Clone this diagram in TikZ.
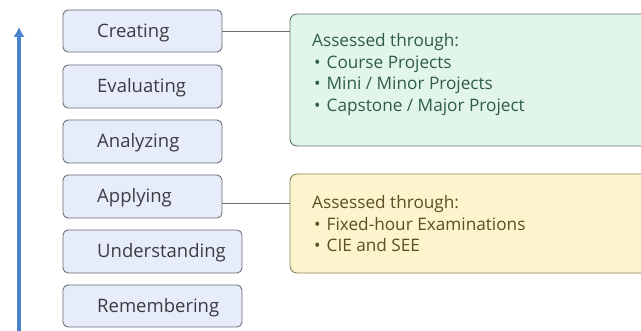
\documentclass[tikz,border=0pt]{standalone}
\usepackage{fontspec}
\usetikzlibrary{arrows.meta}
\setmainfont{Open Sans}
\definecolor{lvlfill}{HTML}{E6ECF9}
\definecolor{lvldraw}{HTML}{6A6E78}
\definecolor{lvltext}{HTML}{3A3C42}
\definecolor{arrowblue}{HTML}{4A82CC}
\definecolor{greenfill}{HTML}{E2F5EA}
\definecolor{greendraw}{HTML}{5E7A68}
\definecolor{greentext}{HTML}{2F5E42}
\definecolor{yellowfill}{HTML}{FCF4CC}
\definecolor{yellowdraw}{HTML}{8C8458}
\definecolor{yellowtext}{HTML}{5C4E1E}
\definecolor{linegray}{HTML}{6A6A6A}
\tikzset{
  lvl/.style={draw=lvldraw, fill=lvlfill, rounded corners=5pt, line width=0.9pt},
  lvltxt/.style={text=lvltext, font=\fontsize{18.5}{22}\selectfont, anchor=base west, inner sep=0pt},
  assess/.style={rounded corners=7pt, line width=0.9pt},
  asstxt/.style={anchor=north west, font=\fontsize{17.2}{21.6}\selectfont, align=left, inner sep=0pt},
  conn/.style={draw=linegray, line width=0.9pt},
}
\begin{document}
\begin{tikzpicture}[x=1pt,y=-1pt]
\useasboundingbox[fill=white] (0,0) rectangle (641,331);
% arrow
\coordinate (abot) at (19,331);
\coordinate (atop) at (19,27);
\draw[arrowblue, line width=3.5pt, -{Latex[length=10pt,width=11.5pt]}] (abot) -- (atop);
% level boxes
\draw[lvl] (63,10) rectangle (222,52);
\node[lvltxt] (cre) at (97,38) {Creating};
\draw[lvl] (63,65) rectangle (222,108);
\node[lvltxt] (eva) at (97,93) {Evaluating};
\draw[lvl] (63,120) rectangle (222,163);
\node[lvltxt] (ana) at (97,148) {Analyzing};
\draw[lvl] (63,175) rectangle (222,218);
\node[lvltxt] (app) at (97,203) {Applying};
\draw[lvl] (63,230) rectangle (242,273);
\node[lvltxt] (und) at (97,258) {Understanding};
\draw[lvl] (63,285) rectangle (242,327);
\node[lvltxt] (rem) at (97,313) {Remembering};
\coordinate (creR) at (222,31);
\coordinate (appR) at (222,203);
% assessment boxes
\draw[assess, draw=greendraw, fill=greenfill] (290,14) rectangle (660,146);
\coordinate (grnL) at (290,31);
\node[asstxt, text=greentext] (grn) at (312,33.5)
 {Assessed through:\\
  \hspace*{2pt}\textbullet\hspace{6pt}Course Projects\\
  \hspace*{2pt}\textbullet\hspace{6pt}Mini / Minor Projects\\
  \hspace*{2pt}\textbullet\hspace{6pt}Capstone / Major Project};
\draw[assess, draw=yellowdraw, fill=yellowfill] (290,174) rectangle (660,273);
\coordinate (ylwL) at (290,203);
\node[asstxt, text=yellowtext] (ylw) at (312,195.5)
 {Assessed through:\\
  \hspace*{2pt}\textbullet\hspace{6pt}Fixed-hour Examinations\\
  \hspace*{2pt}\textbullet\hspace{6pt}CIE and SEE};
% connectors
\draw[conn] (creR) -- (grnL);
\draw[conn] (appR) -- (ylwL);
\end{tikzpicture}
\end{document}
